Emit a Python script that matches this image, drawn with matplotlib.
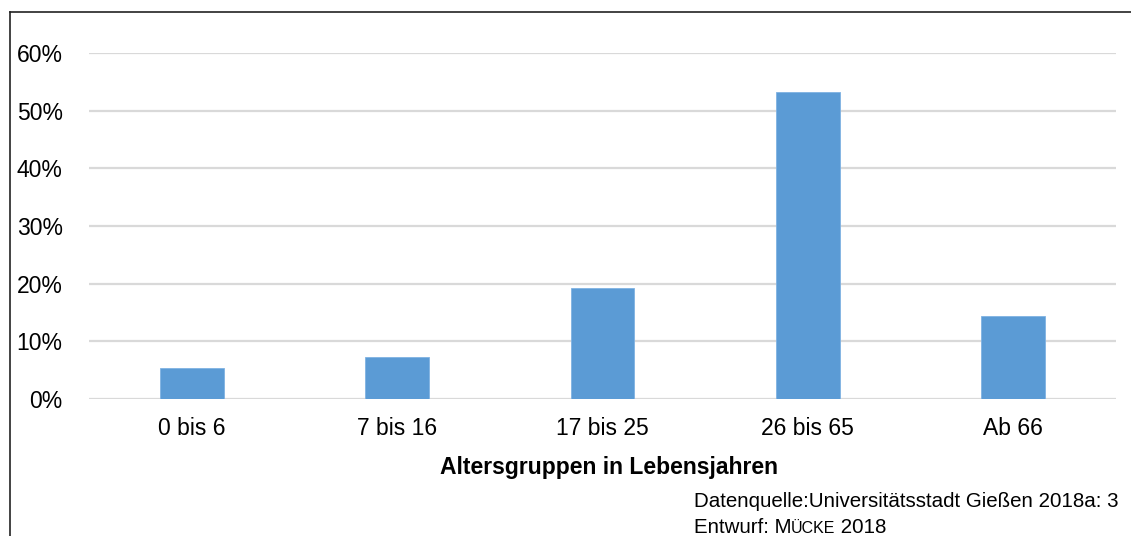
import numpy as np
import matplotlib
matplotlib.use('Agg')
import matplotlib.pyplot as plt
from matplotlib.lines import Line2D
from matplotlib.ticker import PercentFormatter

# Daten
altersgruppen = ['0 bis 6', '7 bis 16', '17 bis 25', '26 bis 65', 'Ab 66']
anteile = [5.4, 7.2, 19.3, 53.3, 14.4]
y_ticks = [0, 10, 20, 30, 40, 50, 60]

plt.rcParams['font.family'] = ['Liberation Sans', 'DejaVu Sans']

W, H = 1131, 536
fig = plt.figure(figsize=(W / 100, H / 100), dpi=100)
ax = fig.add_axes([89 / W, 1 - 399 / H, 1027 / W, 346 / H])

x = np.arange(len(altersgruppen))
ax.bar(x, anteile, width=0.31, color='#5B9BD5', edgecolor='#7FB2E3', linewidth=0.6, zorder=3)

ax.set_xlim(-0.5, len(altersgruppen) - 0.5)
ax.set_ylim(0, 60)
ax.set_yticks(y_ticks)
ax.yaxis.set_major_formatter(PercentFormatter(decimals=0))
ax.set_xticks(x)
ax.set_xticklabels(altersgruppen)
ax.grid(axis='y', color='#D9D9D9', linewidth=1.6, zorder=0)
ax.set_axisbelow(True)
for s in ax.spines.values():
    s.set_visible(False)
ax.tick_params(axis='both', length=0, labelsize=16.5, colors='black')
ax.tick_params(axis='y', pad=19)
ax.tick_params(axis='x', pad=13)

ax.set_xlabel('Altersgruppen in Lebensjahren', fontsize=16.5, fontweight='bold', va='baseline')
ax.xaxis.set_label_coords(0.506, (399 - 474) / 346)

# Rahmen oben und links
fig.add_artist(Line2D([10 / W, 10 / W], [0, 1 - 12 / H], color='#222222', linewidth=1.2))
fig.add_artist(Line2D([10 / W, 1], [1 - 12 / H, 1 - 12 / H], color='#222222', linewidth=1.2))

# Quelle
fs = 14.8
fig.canvas.draw()
renderer = fig.canvas.get_renderer()
quelle = fig.text(1118 / W, 1 - 507 / H, 'Datenquelle:Universitätsstadt Gießen 2018a: 3',
                  fontsize=fs, va='baseline', ha='right')
x_cur = quelle.get_window_extent(renderer=renderer).x0
for teil, groesse in [('Entwurf: M', fs), ('ÜCKE', fs * 0.78), (' 2018', fs)]:
    t = fig.text(x_cur / W, 1 - 533 / H, teil, fontsize=groesse, va='baseline', ha='left')
    x_cur = t.get_window_extent(renderer=renderer).x1

fig.savefig('out.png', dpi=100)
